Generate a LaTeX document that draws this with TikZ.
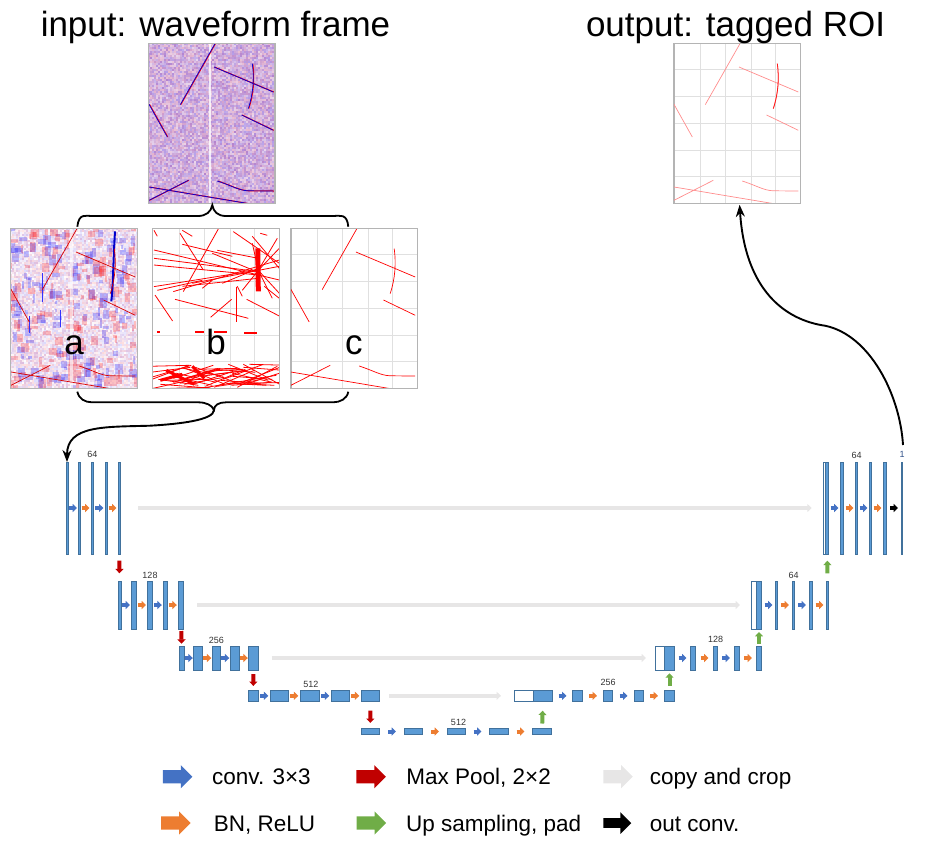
\documentclass[tikz,border=0pt]{standalone}
\usepackage{fontspec}
\setmainfont{Liberation Sans}
\usetikzlibrary{arrows.meta, positioning, shapes.arrows}

\definecolor{blockfill}{HTML}{5B9BD5}
\definecolor{blockline}{HTML}{41719C}
\definecolor{convblue}{HTML}{4472C4}
\definecolor{bnorange}{HTML}{ED7D31}
\definecolor{poolred}{HTML}{C00000}
\definecolor{upgreen}{HTML}{70AD47}
\definecolor{copygray}{HTML}{E7E6E6}
\definecolor{framegray}{HTML}{B4B4B4}
\definecolor{gridgray}{HTML}{E0E0E0}

\newcommand{\speckle}[4]{%
  \pgfmathsetseed{#4}%
  \foreach \i in {0,...,63}{\foreach \j in {0,...,79}{%
    \pgfmathrandominteger{\ublue}{#1}{#2}%
    \pgfmathrandominteger{\vred}{#1}{#3}%
    \definecolor{cellc}{RGB}{\the\numexpr255-\ublue\relax,\the\numexpr255-\ublue-\vred\relax,\the\numexpr255-\vred\relax}%
    \fill[cellc] (\i*2,\j*2) rectangle +(2.2,2.2);
  }}%
}
\newcommand{\blots}{%
  \pgfmathsetseed{77}%
  \foreach \k in {1,...,280}{%
    \pgfmathrandominteger{\bx}{-3}{124}%
    \pgfmathrandominteger{\by}{-3}{157}%
    \pgfmathrandominteger{\bw}{2}{8}%
    \pgfmathrandominteger{\bh}{3}{10}%
    \ifodd\k\def\bcol{blue}\else\def\bcol{red}\fi
    \fill[\bcol, fill opacity=.22] (\bx,\by) rectangle +(\bw,\bh);
  }%
}
\newcommand{\tracks}[1]{%
  \draw[#1] (66.7,.3) -- (32,61.3) (65.7,23.7) -- (125,48.7)
    (104,20.3) .. controls (106,35) and (105,50) .. (100,65.3)
    (93.3,71.7) -- (125,87) (.7,61) -- (19,93.7) (.7,157) -- (40,137)
    (.7,143.7) -- (100,160.3)
    (69,137.7) .. controls (85,143) and (90,147) .. (100,147.5) -- (125,147.7);%
}
\newcommand{\gridlines}{%
  \foreach \gx in {26.7,52.3,77.7,102.3}{\draw[gridgray, line width=.8pt] (\gx,0) -- (\gx,160);}
  \foreach \gy in {26,53,80,106.7,133.3}{\draw[gridgray, line width=.8pt] (0,\gy) -- (127.4,\gy);}
}

\begin{document}
\begin{tikzpicture}[
    x=1pt, y=-1pt,
    rowa/.style={block, minimum height=92pt, minimum width=#1},
    rowb/.style={block, minimum height=48pt, minimum width=#1},
    rowc/.style={block, minimum height=24pt, minimum width=#1},
    rowd/.style={block, minimum height=11.7pt, minimum width=#1},
    rowe/.style={block, minimum height=6.6pt, minimum width=#1},
    block/.style={draw=blockline, fill=blockfill, line width=.8pt, inner sep=0pt, outer sep=0pt},
    empty/.style={fill=white},
    size/.style={font=\fontsize{9}{10}\selectfont, inner sep=0pt, text=black!80},
    stepline/.style={line width=4pt, -{Triangle[length=4.4pt, width=8pt]}},
    conv/.style={stepline, draw=convblue, shorten <=#1, shorten >=#1},
    bn/.style={stepline, draw=bnorange, shorten <=#1, shorten >=#1},
    pool/.style={stepline, draw=poolred},
    up/.style={stepline, draw=upgreen},
    copyline/.style={stepline, draw=copygray},
    frame/.style={draw=framegray, line width=.8pt, minimum width=127.4pt, minimum height=160pt, inner sep=0pt, outer sep=0pt},
    heading/.style={font=\fontsize{35}{38}\selectfont, inner sep=0pt, text depth=0pt},
    letter/.style={font=\fontsize{35}{38}\selectfont, inner sep=0pt, text depth=0pt},
    brace/.style={line width=1.8pt},
    flow/.style={line width=1.9pt, -{Stealth[length=12pt, width=9pt]}},
    keyarrow/.style={single arrow, inner sep=6.4pt, outer sep=0pt, minimum height=29.5pt, single arrow head extend=5pt, single arrow tip angle=90},
    keytext/.style={font=\fontsize{22.5}{24}\selectfont, inner sep=0pt, text height=16pt, text depth=0pt}
]
\useasboundingbox (0,0) rectangle (925,849);

\begin{scope}[shift={(148.3,43.3)}]
  \clip (0,0) rectangle (127.4,160);
  \speckle{20}{75}{50}{11}
  \fill[white, opacity=.8] (60.7,0) rectangle +(2.2,160);
  \fill[framegray] (125.4,0) rectangle +(2,160);
  \begin{scope}[xshift=.5pt]\tracks{red, line width=1pt}\end{scope}
  \tracks{blue!85!black, line width=.7pt}
\end{scope}
\begin{scope}[shift={(10.3,228.3)}]
  \clip (0,0) rectangle (127.4,160);
  \speckle{0}{35}{35}{23}
  \blots
  \fill[white, opacity=.6] (60,0) rectangle +(2.5,160);
  \draw[blue!80!black, line width=2pt] (104.7,3) .. controls (103,30) and (103,55) .. (101,73);
  \draw[blue!80, line width=1pt] (32,45) -- (32,74) (50.5,82) -- (50.5,99) (19,88) -- (19,105);
  \tracks{red!85!black, line width=.7pt}
\end{scope}
\begin{scope}[shift={(152.3,228.3)}]
  \clip (0,0) rectangle (127.4,160);
  \gridlines
  \foreach \xa/\ya/\xb/\yb in {1.7/21.7/127/51.7, 1.7/30/106/43.3, 1.7/36.7/106/46.7, 66/.7/31/63.3,
      27.7/5/51/41.7, 81/3.3/127/35, 1.7/58.3/106/41.7, 21/63.3/127/31.7, 2.7/66.7/20.3/92.7,
      22.7/71/96/90, 58.3/89/79.3/71, 84.3/58.3/84.3/93.3, 94.3/71/127/87.7,
      106/42/127/20, 106/42/127/65, 106/42/90/62, 106/42/120/70, 106/42/100/15, 106/42/125/10,
      60/25/106/44, 70/55/106/40, 30/16/80/28, 5/62/50/52, 1.7/2/5/8, 30/2/40/8, 108/5/115/7,
      40/55/127/38, 30/58/106/50, 85/58/90/68, 112/58/127/70, 100/8/127/40, 65/22/106/30, 50/60/60/52}{%
    \draw[red, line width=.8pt] (\xa,\ya) -- (\xb,\yb);}
  \draw[red, line width=5pt] (105.5,20) -- (106,63);
  \draw[red, line width=1.5pt] (5,103.5) -- (8,103.5) (43,103.5) -- (52,103.5) (62,103.5) -- (75,103.5) (92,104.5) -- (105,104.5);
  \pgfmathsetseed{5}
  \foreach \k in {1,...,46}{%
    \pgfmathrandominteger{\xa}{-10}{100}%
    \pgfmathrandominteger{\ya}{136}{160}%
    \pgfmathrandominteger{\yb}{136}{160}%
    \draw[red, line width=.8pt] (\xa,\ya) -- +(40,\yb-\ya);}
  \draw[red, line width=3pt] (8,152) -- (30,146) (14,142) -- (42,156) (40,138) -- (52,150);
\end{scope}
\begin{scope}[shift={(290.2,228.3)}]
  \clip (0,0) rectangle (127.4,160);
  \gridlines
  \fill[framegray] (0,0) rectangle +(1.5,160);
  \tracks{red, line width=.7pt}
\end{scope}
\begin{scope}[shift={(673.3,43.3)}]
  \clip (0,0) rectangle (127.4,160);
  \gridlines
  \fill[framegray] (0,0) rectangle +(1.5,160);
  \tracks{red!45, line width=.7pt}
  \draw[red!90, line width=.8pt] (104,20.3) .. controls (106,35) and (105,50) .. (100,65.3);
\end{scope}

\node[frame] (framein) at (212,123.3) {};
\node[frame] (framea) at (74,308.3) {};
\node[frame] (frameb) at (216,308.3) {};
\node[frame] (framec) at (353.9,308.3) {};
\node[frame] (frameout) at (737,123.3) {};

\node[heading, above=6.3pt of framein, xshift=3.5pt] (titlein) {input: waveform frame};
\node[heading, above=6.6pt of frameout, xshift=-1.5pt] (titleout) {output: tagged ROI};
\node[letter, above=33.3pt of framea.south] (la) {a};
\node[letter, above=33.3pt of frameb.south] (lb) {b};
\node[letter, above=33.3pt of framec.south] (lc) {c};

\node[rowa=2pt, anchor=west] (a1) at (66,508) {};
\node[rowa=2pt, right=10pt of a1] (a2) {};
\node[rowa=2.7pt, right=11pt of a2] (a3) {};
\node[rowa=2pt, right=11.3pt of a3] (a4) {};
\node[rowa=2.7pt, right=11pt of a4] (a5) {};

\node[rowb=3pt, anchor=west] (b1) at (118,605) {};
\node[rowb=5.7pt, right=10pt of b1] (b2) {};
\node[rowb=5.4pt, right=10.6pt of b2] (b3) {};
\node[rowb=4.7pt, right=10.3pt of b3] (b4) {};
\node[rowb=5.7pt, right=10.3pt of b4] (b5) {};

\node[rowc=5.7pt, anchor=west] (c1) at (179,658) {};
\node[rowc=9.7pt, right=8.3pt of c1] (c2) {};
\node[rowc=8.7pt, right=9.3pt of c2] (c3) {};
\node[rowc=9.7pt, right=9.3pt of c3] (c4) {};
\node[rowc=10.7pt, right=8.3pt of c4] (c5) {};

\node[rowd=10.7pt, anchor=west] (d1) at (248,695.8) {};
\node[rowd=18.7pt, right=11.3pt of d1] (d2) {};
\node[rowd=19.7pt, right=11.3pt of d2] (d3) {};
\node[rowd=18.7pt, right=11.3pt of d3] (d4) {};
\node[rowd=18.7pt, right=11.3pt of d4] (d5) {};

\node[rowe=18.7pt, anchor=west] (e1) at (361,731.5) {};
\node[rowe=18.4pt, right=24.6pt of e1] (e2) {};
\node[rowe=18.4pt, right=24.6pt of e2] (e3) {};
\node[rowe=19.4pt, right=23.6pt of e3] (e4) {};
\node[rowe=19.4pt, right=23.6pt of e4] (e5) {};

\node[rowd=19pt, empty, anchor=west] (p0) at (514.3,695.8) {};
\node[rowd=19.4pt, right=0pt of p0] (p1) {};
\node[rowd=10.4pt, right=19.6pt of p1] (p2) {};
\node[rowd=9.4pt, right=20.6pt of p2] (p3) {};
\node[rowd=9.4pt, right=21.6pt of p3] (p4) {};
\node[rowd=10.4pt, right=20.6pt of p4] (p5) {};

\node[rowc=9pt, empty, anchor=west] (q0) at (655.3,658) {};
\node[rowc=10.4pt, right=0pt of q0] (q1) {};
\node[rowc=5.4pt, right=15.6pt of q1] (q2) {};
\node[rowc=4.4pt, right=17.6pt of q2] (q3) {};
\node[rowc=5.4pt, right=16.6pt of q3] (q4) {};
\node[rowc=5.4pt, right=16.6pt of q4] (q5) {};

\node[rowb=5pt, empty, anchor=west] (r0) at (751.3,605) {};
\node[rowb=5.4pt, right=0pt of r0] (r1) {};
\node[rowb=2.4pt, right=13.6pt of r1] (r2) {};
\node[rowb=2.4pt, right=14.6pt of r2] (r3) {};
\node[rowb=3.4pt, right=14.6pt of r3] (r4) {};
\node[rowb=2.4pt, right=13.6pt of r4] (r5) {};

\node[rowa=2.4pt, empty, anchor=west] (s0) at (823.3,508) {};
\node[rowa=3pt, right=0pt of s0] (s1) {};
\node[rowa=3.4pt, right=11.6pt of s1] (s2) {};
\node[rowa=2.4pt, right=11.6pt of s2] (s3) {};
\node[rowa=2.4pt, right=11.6pt of s3] (s4) {};
\node[rowa=3.4pt, right=11.6pt of s4] (s5) {};
\node[rowa=1.4pt, right=14.6pt of s5] (s6) {};

\node[size, above=4pt of a3] (na) {64};
\node[size, above=2.1pt of b3] (nb) {128};
\node[size, above=2.1pt of c3] (nc) {256};
\node[size, above=2.1pt of d3, xshift=1pt] (nd) {512};
\node[size, above=2.1pt of e3, xshift=2pt] (ne) {512};
\node[size, above=4.1pt of p3] (np) {256};
\node[size, above=3.1pt of q3] (nq) {128};
\node[size, above=2.1pt of r3] (nr) {64};
\node[size, above=3.1pt of s3] (ns) {64};
\node[size, above=4.1pt of s6, text=convblue!70!black] (nt) {1};

\draw[conv=1pt] (a1) -- (a2);
\draw[bn=1.5pt] (a2) -- (a3);
\draw[conv=1.6pt] (a3) -- (a4);
\draw[bn=1.5pt] (a4) -- (a5);
\draw[conv=1pt] (b1) -- (b2);
\draw[bn=1.3pt] (b2) -- (b3);
\draw[conv=1.2pt] (b3) -- (b4);
\draw[bn=1.2pt] (b4) -- (b5);
\draw[conv=.2pt] (c1) -- (c2);
\draw[bn=.7pt] (c2) -- (c3);
\draw[conv=.7pt] (c3) -- (c4);
\draw[bn=.2pt] (c4) -- (c5);
\draw[conv=1.7pt] (d1) -- (d2);
\draw[bn=1.7pt] (d2) -- (d3);
\draw[conv=1.7pt] (d3) -- (d4);
\draw[bn=1.7pt] (d4) -- (d5);
\draw[conv=8.3pt] (e1) -- (e2);
\draw[bn=8.3pt] (e2) -- (e3);
\draw[conv=7.8pt] (e3) -- (e4);
\draw[bn=7.8pt] (e4) -- (e5);
\draw[conv=5.8pt] (p1) -- (p2);
\draw[bn=6.3pt] (p2) -- (p3);
\draw[conv=6.8pt] (p3) -- (p4);
\draw[bn=6.3pt] (p4) -- (p5);
\draw[conv=3.8pt] (q1) -- (q2);
\draw[bn=4.8pt] (q2) -- (q3);
\draw[conv=4.3pt] (q3) -- (q4);
\draw[bn=4.3pt] (q4) -- (q5);
\draw[conv=2.8pt] (r1) -- (r2);
\draw[bn=3.3pt] (r2) -- (r3);
\draw[conv=3.3pt] (r3) -- (r4);
\draw[bn=2.8pt] (r4) -- (r5);
\draw[conv=1.8pt] (s1) -- (s2);
\draw[bn=1.8pt] (s2) -- (s3);
\draw[conv=1.8pt] (s3) -- (s4);
\draw[bn=1.8pt] (s4) -- (s5);
\draw[stepline, shorten <=3.3pt, shorten >=3.3pt] (s5) -- (s6);

\draw[pool, shorten <=6.7pt, shorten >=7.7pt] (a5) -- (b1);
\draw[pool, shorten <=2pt, shorten >=2.3pt] (b5) -- (c1);
\draw[pool, shorten <=4pt, shorten >=4pt] (c5) -- (d1);
\draw[pool, shorten <=9pt, shorten >=5.3pt] (d5) -- (e1);
\draw[up, shorten <=4.7pt, shorten >=9pt] (e5) -- (p1);
\draw[up, shorten <=4pt, shorten >=3.3pt] (p5) -- (q1);
\draw[up, shorten <=2pt, shorten >=3pt] (q5) -- (r1);
\draw[up, shorten <=7.7pt, shorten >=6.7pt] (r5) -- (s1);

\draw[copyline, shorten <=17.3pt, shorten >=11.6pt] (a5) -- (s0);
\draw[copyline, shorten <=13.6pt, shorten >=11.3pt] (b5) -- (r0);
\draw[copyline, shorten <=13pt, shorten >=9.3pt] (c5) -- (q0);
\draw[copyline, shorten <=9.3pt, shorten >=13.3pt] (d5) -- (p0);

\coordinate (topl) at (77.3,226.7);
\coordinate (topr) at (348.3,226.7);
\coordinate (toptip) at (212.3,205);
\coordinate (botl) at (77.3,391.7);
\coordinate (botr) at (348.3,391.7);
\coordinate (bottip) at (214,410);
\draw[brace] (topl) .. controls (79,213) and (85,216) .. (92,216) -- (198,216)
    .. controls (206,216) and (211,212) .. (toptip)
    .. controls (213.5,212) and (218,216) .. (226,216) -- (333,216)
    .. controls (340,216) and (347,213) .. (topr);
\draw[brace] (botl) .. controls (79,399) and (85,402.3) .. (92,402.3) -- (198,402.3)
    .. controls (206,402.3) and (212,405) .. (bottip)
    .. controls (214,405) and (219,402.3) .. (226,402.3) -- (333,402.3)
    .. controls (340,402.3) and (347,399) .. (botr);
\draw[flow] (bottip) .. controls (214,420) and (180,424) .. (150,425.7)
    .. controls (105,427) and (67,425) .. (a1.north);
\draw[flow, shorten >=1.5pt] ([xshift=1pt, yshift=17pt]s6.north) .. controls (900,395) and (870,335) .. (825,325.7)
    .. controls (785,320) and (745,290) .. ([xshift=2.5pt]frameout.south);

\node[keyarrow, fill=convblue] (kconv) at (174.3,776.7) {};
\node[keyarrow, fill=bnorange] (kbn) at (172.6,823) {};
\node[keyarrow, fill=poolred] (kpool) at (367.9,776.7) {};
\node[keyarrow, fill=upgreen] (kup) at (368.1,823) {};
\node[keyarrow, fill=copygray] (kcopy) at (614.7,776.7) {};
\node[keyarrow, fill=black, inner sep=4.7pt, single arrow head extend=6pt, minimum height=28pt] (kout) at (614.8,823) {};
\node[keytext, right=19.6pt of kconv] (tconv) {conv. 3×3};
\node[keytext, right=23pt of kbn] (tbn) {BN, ReLU};
\node[keytext, right=20.3pt of kpool] (tpool) {Max Pool, 2×2};
\node[keytext, right=19.7pt of kup] (tup) {Up sampling, pad};
\node[keytext, right=17pt of kcopy] (tcopy) {copy and crop};
\node[keytext, right=18.4pt of kout] (tout) {out conv.};
\end{tikzpicture}
\end{document}
